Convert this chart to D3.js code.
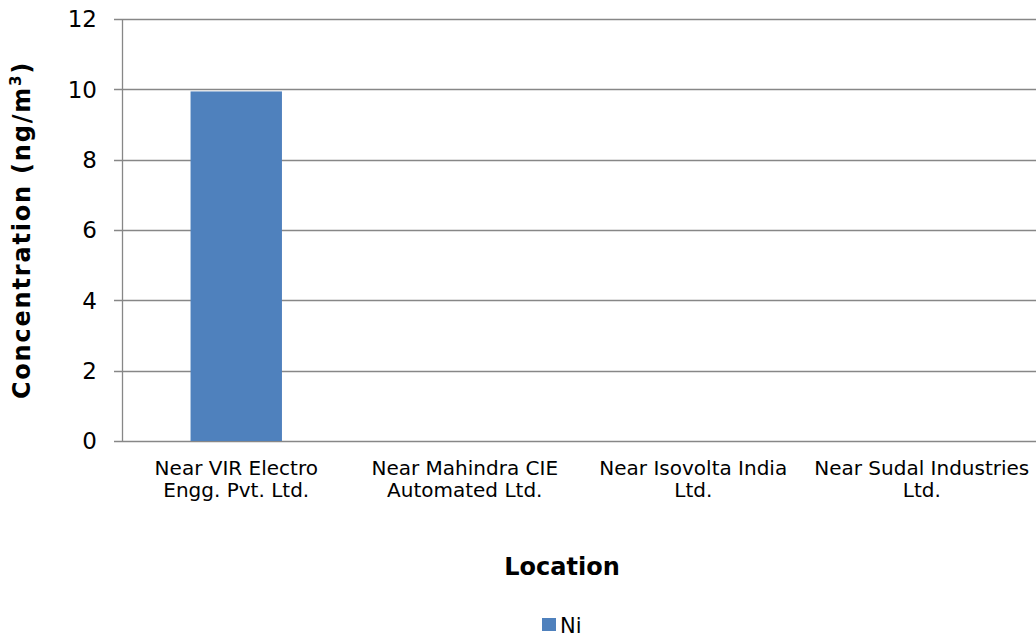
<!DOCTYPE html>
<html>
<head>
<meta charset="utf-8">
<script src="https://cdn.jsdelivr.net/npm/d3@7"></script>
<style>
  body { margin: 0; background: #fff; }
  svg text { font-family: "DejaVu Sans", Verdana, sans-serif; fill: #000; }
</style>
</head>
<body>
<div id="vis"></div>
<script>
// chart data
var locations = [
  ["Near VIR Electro", "Engg. Pvt. Ltd."],
  ["Near Mahindra CIE", "Automated Ltd."],
  ["Near Isovolta India", "Ltd."],
  ["Near Sudal Industries", "Ltd."]
];
var niValues = [9.94, 0, 0, 0];
var yTicks = [0, 2, 4, 6, 8, 10, 12];
var seriesName = "Ni";

var W = 1036, H = 638;
var margin = {top: 19, right: 0, bottom: 197, left: 122},
    width = W - margin.left - margin.right,
    height = H - margin.top - margin.bottom;

var x = d3.scaleBand().domain(d3.range(locations.length)).range([0, width]);
var y = d3.scaleLinear().domain([0, 12]).range([height, 0]);

var svg = d3.select("#vis").append("svg")
    .attr("width", W)
    .attr("height", H);

var g = svg.append("g")
    .attr("transform", "translate(" + margin.left + "," + margin.top + ")");

// gridlines + y ticks
g.selectAll(".grid").data(yTicks).enter().append("line")
    .attr("x1", -8).attr("x2", width)
    .attr("y1", function(d) { return Math.round(y(d)) + 0.5; })
    .attr("y2", function(d) { return Math.round(y(d)) + 0.5; })
    .attr("stroke", "#878787")
    .attr("stroke-width", 1.3);

g.selectAll(".ytick").data(yTicks).enter().append("text")
    .attr("x", -25)
    .attr("y", function(d) { return y(d); })
    .attr("dy", "0.36em")
    .attr("text-anchor", "end")
    .style("font-size", "23px")
    .text(function(d) { return d; });

// bars
var bw = x.bandwidth() * 0.4;
g.selectAll(".bar").data(niValues).enter().append("rect")
    .attr("x", function(d, i) { return x(i) + (x.bandwidth() - bw) / 2; })
    .attr("width", bw)
    .attr("y", function(d) { return y(d); })
    .attr("height", function(d) { return height - y(d); })
    .attr("fill", "#4F81BD");

// y axis line
g.append("line")
    .attr("x1", 0.5).attr("x2", 0.5)
    .attr("y1", 0).attr("y2", height)
    .attr("stroke", "#878787")
    .attr("stroke-width", 1.3);

// category labels
var lab = g.selectAll(".xlab").data(locations).enter().append("text")
    .attr("text-anchor", "middle")
    .attr("transform", function(d, i) {
      return "translate(" + (x(i) + x.bandwidth() / 2) + "," + (height + 34) + ")";
    })
    .style("font-size", "20px");
lab.selectAll("tspan").data(function(d) { return d; }).enter().append("tspan")
    .attr("x", 0)
    .attr("dy", function(d, i) { return i ? 22 : 0; })
    .text(function(d) { return d; });

// axis titles
var yt = svg.append("text")
    .attr("transform", "translate(30," + (margin.top + height / 2) + ")rotate(-90)")
    .attr("text-anchor", "middle")
    .style("font-size", "24px")
    .style("font-weight", "bold")
    .style("letter-spacing", "1.8px");
yt.append("tspan").text("Concentration (ng/m");
yt.append("tspan").attr("dy", -9).style("font-size", "15px").text("3");
yt.append("tspan").attr("dy", 9).text(")");

svg.append("text")
    .attr("x", 562)
    .attr("y", 575)
    .attr("text-anchor", "middle")
    .style("font-size", "24px")
    .style("font-weight", "bold")
    .text("Location");

// legend
svg.append("rect")
    .attr("x", 542).attr("y", 618)
    .attr("width", 14).attr("height", 13)
    .attr("fill", "#4F81BD");
svg.append("text")
    .attr("x", 560).attr("y", 633)
    .style("font-size", "21px")
    .text(seriesName);
</script>
</body>
</html>
